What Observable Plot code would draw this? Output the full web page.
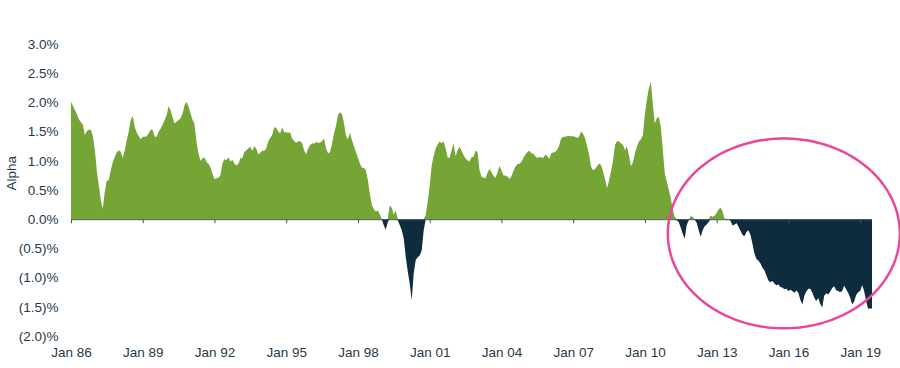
<!DOCTYPE html>
<html>
<head>
<meta charset="utf-8">
<script src="https://cdn.jsdelivr.net/npm/d3@7"></script>
<script src="https://cdn.jsdelivr.net/npm/@observablehq/plot@0.6"></script>
<style>
  html, body { margin: 0; padding: 0; background: #ffffff; }
  #chart { width: 900px; height: 368px; }
</style>
</head>
<body>
<div id="chart"></div>
<script>
// ---- Data (monthly rolling alpha, %), starting January 1986 ----
const startYear = 1986;
const alpha = [
  /*1986*/ 2.01, 1.94, 1.87, 1.80, 1.71, 1.66, 1.62, 1.44, 1.51, 1.53, 1.53, 1.42,
  /*1987*/ 1.18, 0.81, 0.58, 0.33, 0.18, 0.47, 0.66, 0.67, 0.84, 0.98, 1.07, 1.14,
  /*1988*/ 1.18, 1.15, 1.05, 1.18, 1.35, 1.50, 1.70, 1.77, 1.58, 1.48, 1.42, 1.37,
  /*1989*/ 1.41, 1.41, 1.42, 1.47, 1.53, 1.53, 1.41, 1.41, 1.50, 1.55, 1.62, 1.70,
  /*1990*/ 1.78, 1.94, 1.87, 1.75, 1.64, 1.67, 1.70, 1.73, 1.81, 1.95, 2.01, 1.93,
  /*1991*/ 1.81, 1.70, 1.64, 1.33, 1.13, 1.00, 1.04, 1.06, 0.98, 0.95, 0.89, 0.78,
  /*1992*/ 0.69, 0.70, 0.71, 0.75, 0.95, 1.03, 1.01, 1.06, 0.99, 1.02, 0.95, 0.92,
  /*1993*/ 0.95, 1.05, 1.04, 1.15, 1.18, 1.21, 1.24, 1.17, 1.25, 1.21, 1.11, 1.14,
  /*1994*/ 1.17, 1.17, 1.21, 1.33, 1.39, 1.44, 1.57, 1.57, 1.50, 1.47, 1.57, 1.49,
  /*1995*/ 1.49, 1.48, 1.49, 1.38, 1.34, 1.31, 1.33, 1.34, 1.30, 1.18, 1.11, 1.21,
  /*1996*/ 1.27, 1.30, 1.29, 1.32, 1.31, 1.31, 1.34, 1.38, 1.21, 1.13, 1.15, 1.29,
  /*1997*/ 1.47, 1.61, 1.78, 1.83, 1.80, 1.65, 1.43, 1.37, 1.48, 1.35, 1.25, 1.15,
  /*1998*/ 1.05, 0.95, 0.88, 0.88, 0.84, 0.67, 0.44, 0.24, 0.17, 0.13, 0.15, 0.08,
  /*1999*/ -0.01, -0.11, -0.18, -0.05, 0.24, 0.19, 0.08, 0.15, -0.02, -0.10, -0.19, -0.33,
  /*2000*/ -0.65, -0.90, -1.10, -1.39, -0.93, -0.70, -0.65, -0.62, -0.53, -0.19, 0.07, 0.30,
  /*2001*/ 0.58, 0.93, 1.08, 1.21, 1.28, 1.33, 1.30, 1.33, 1.21, 1.06, 1.05, 1.18,
  /*2002*/ 1.30, 1.08, 1.18, 1.24, 1.17, 1.10, 1.04, 1.01, 0.99, 1.06, 1.07, 1.17,
  /*2003*/ 1.15, 0.84, 0.73, 0.71, 0.70, 0.79, 0.86, 0.81, 0.74, 0.71, 0.79, 0.91,
  /*2004*/ 0.84, 0.75, 0.75, 0.73, 0.69, 0.73, 0.82, 0.90, 0.94, 0.95, 0.98, 1.05,
  /*2005*/ 1.11, 1.15, 1.17, 1.13, 1.12, 1.08, 1.05, 1.06, 1.06, 1.05, 1.11, 1.08,
  /*2006*/ 1.03, 1.13, 1.14, 1.15, 1.19, 1.26, 1.38, 1.41, 1.41, 1.42, 1.43, 1.42,
  /*2007*/ 1.42, 1.41, 1.39, 1.41, 1.50, 1.46, 1.39, 1.25, 1.11, 0.90, 0.84, 0.86,
  /*2008*/ 0.91, 0.95, 0.93, 0.82, 0.69, 0.53, 0.66, 0.82, 1.01, 1.27, 1.34, 1.33,
  /*2009*/ 1.30, 1.27, 1.18, 1.25, 1.10, 0.91, 0.97, 1.13, 1.25, 1.33, 1.37, 1.44,
  /*2010*/ 1.81, 2.06, 2.24, 2.35, 1.98, 1.64, 1.73, 1.75, 1.58, 1.18, 0.78, 0.64,
  /*2011*/ 0.50, 0.35, 0.17, 0.04, -0.02, -0.05, -0.14, -0.25, -0.33, -0.10, -0.02, 0.05,
  /*2012*/ 0.04, -0.01, -0.06, -0.19, -0.30, -0.19, -0.12, -0.09, -0.05, 0.06, 0.04, 0.06,
  /*2013*/ 0.11, 0.17, 0.20, 0.13, 0.01, -0.02, 0.00, -0.03, -0.11, -0.09, -0.07, -0.13,
  /*2014*/ -0.20, -0.27, -0.29, -0.22, -0.19, -0.27, -0.42, -0.59, -0.68, -0.71, -0.76, -0.83,
  /*2015*/ -0.88, -0.97, -1.05, -1.08, -1.06, -1.10, -1.13, -1.12, -1.16, -1.17, -1.20, -1.19,
  /*2016*/ -1.23, -1.21, -1.23, -1.26, -1.22, -1.26, -1.38, -1.46, -1.31, -1.24, -1.19, -1.19,
  /*2017*/ -1.26, -1.35, -1.40, -1.35, -1.45, -1.51, -1.31, -1.27, -1.29, -1.24, -1.18, -1.15,
  /*2018*/ -1.22, -1.23, -1.25, -1.23, -1.14, -1.20, -1.26, -1.34, -1.46, -1.41, -1.30, -1.25,
  /*2019*/ -1.23, -1.13, -1.22, -1.39, -1.53, -1.53, -1.53
];
const xTickYears = [1986, 1989, 1992, 1995, 1998, 2001, 2004, 2007, 2010, 2013, 2016, 2019];
const yTicks = [-2.0, -1.5, -1.0, -0.5, 0.0, 0.5, 1.0, 1.5, 2.0, 2.5, 3.0];
const yLabel = "Alpha";
// Highlight ellipse (annotation), in data units
const highlightCenter = { date: "2015-10-16", value: -0.235 };
const highlightRadius = { days: 1772, value: 1.625 };

// ---- Build table ----
const data = alpha.map((v, i) => ({ date: new Date(Date.UTC(startYear, i, 1)), v }));
const tickDates = xTickYears.map(y => new Date(Date.UTC(y, 0, 1)));
const xDomain = [data[0].date, data[data.length - 1].date];

const c0 = new Date(highlightCenter.date + "T00:00:00Z").getTime();
const ellipse = d3.range(0, 361, 2).map(deg => {
  const t = deg * Math.PI / 180;
  return {
    date: new Date(c0 + Math.cos(t) * highlightRadius.days * 864e5),
    v: highlightCenter.value + Math.sin(t) * highlightRadius.value
  };
});

const green = "#75a535";
const navy = "#0f2c3e";
const ink = "#26394a";
const fmtPct = v => v < 0 ? `(${(-v).toFixed(1)})%` : `${v.toFixed(1)}%`;

const chart = Plot.plot({
  width: 900,
  height: 368,
  marginLeft: 71,
  marginRight: 28,
  marginTop: 44,
  marginBottom: 32,
  style: { fontFamily: "'Liberation Sans', Arial, sans-serif", fontSize: "13.5px", color: ink, background: "#ffffff" },
  x: { type: "utc", domain: xDomain },
  y: { domain: [-2, 3] },
  marks: [
    Plot.areaY(data, { x: "date", y: d => Math.max(d.v, 0), fill: green }),
    Plot.areaY(data, { x: "date", y: d => Math.min(d.v, 0), fill: navy }),
    Plot.ruleY([0], { stroke: "#44545f", strokeWidth: 1 }),
    Plot.ruleX(tickDates, { x: d => d, y1: 0, y2: 0, insetBottom: -4, stroke: "#44545f", strokeWidth: 1 }),
    Plot.axisY({ ticks: yTicks, tickSize: 0, tickPadding: 13, tickFormat: fmtPct, label: null, fill: ink }),
    Plot.axisX({ ticks: tickDates, tickSize: 0, tickPadding: 11, tickFormat: d3.utcFormat("%b %y"), label: null, fill: ink }),
    Plot.text([yLabel], { text: d => d, frameAnchor: "left", dx: -60, rotate: -90, fill: ink, fontSize: 13.5 }),
    Plot.line(ellipse, { x: "date", y: "v", stroke: "#e8479a", strokeWidth: 2.5, curve: "linear-closed" })
  ]
});
document.getElementById("chart").appendChild(chart);
</script>
</body>
</html>
